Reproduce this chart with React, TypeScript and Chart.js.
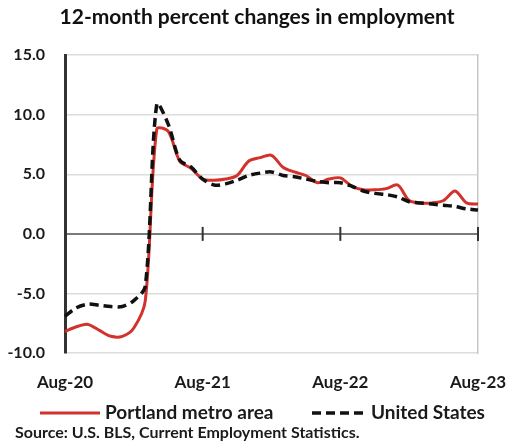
import React, { useEffect, useRef } from 'react';
import { Chart, registerables } from 'chart.js';

Chart.register(...registerables);

const months = [
  'Aug-20', 'Sep-20', 'Oct-20', 'Nov-20', 'Dec-20', 'Jan-21', 'Feb-21', 'Mar-21',
  'Apr-21', 'May-21', 'Jun-21', 'Jul-21', 'Aug-21', 'Sep-21', 'Oct-21', 'Nov-21',
  'Dec-21', 'Jan-22', 'Feb-22', 'Mar-22', 'Apr-22', 'May-22', 'Jun-22', 'Jul-22',
  'Aug-22', 'Sep-22', 'Oct-22', 'Nov-22', 'Dec-22', 'Jan-23', 'Feb-23', 'Mar-23',
  'Apr-23', 'May-23', 'Jun-23', 'Jul-23', 'Aug-23',
];

const portland = [
  -8.2, -7.8, -7.6, -8.1, -8.6, -8.6, -7.9, -5.6,
  8.8, 8.6, 6.1, 5.5, 4.6, 4.5, 4.6, 4.9,
  6.1, 6.4, 6.6, 5.6, 5.2, 4.9, 4.3, 4.6,
  4.7, 4.0, 3.7, 3.7, 3.8, 4.1, 2.8, 2.6,
  2.6, 2.8, 3.6, 2.6, 2.5,
];

const unitedStates = [
  -6.9, -6.2, -5.9, -6.0, -6.1, -6.1, -5.6, -4.4,
  10.9, 9.2, 6.2, 5.6, 4.6, 4.1, 4.2, 4.5,
  4.9, 5.1, 5.2, 4.9, 4.8, 4.6, 4.4, 4.3,
  4.3, 4.0, 3.6, 3.4, 3.3, 3.1, 2.7, 2.6,
  2.5, 2.4, 2.3, 2.1, 2.0,
];

const xTickLabels = ['Aug-20', 'Aug-21', 'Aug-22', 'Aug-23'];
const seriesNames = ['Portland metro area', 'United States'];
const chartTitle = '12-month percent changes in employment';
const sourceNote = 'Source: U.S. BLS, Current Employment Statistics.';
const yMin = -10;
const yMax = 15;
const yStep = 5;

const FONT = 'Lato, "Open Sans", sans-serif';
const TEXT = '#1a1a1a';

const zeroTicksPlugin = {
  id: 'zeroTicks',
  afterDatasetsDraw(chart: any) {
    const { ctx, scales } = chart;
    const x = scales.x;
    const y = scales.y;
    const y0 = y.getPixelForValue(0);
    ctx.save();
    ctx.strokeStyle = '#333333';
    ctx.lineWidth = 2;
    months.forEach((m, i) => {
      if (i > 0 && xTickLabels.includes(m)) {
        const px = x.getPixelForValue(i);
        ctx.beginPath();
        ctx.moveTo(px, y0 - 7);
        ctx.lineTo(px, y0 + 7);
        ctx.stroke();
      }
    });
    ctx.restore();
  },
};

const legendSourcePlugin = {
  id: 'legendSource',
  afterDraw(chart: any) {
    const { ctx } = chart;
    const ds = chart.data.datasets;
    ctx.save();
    const ly = 413;
    const items = [
      { x0: 40, x1: 100, tx: 105 },
      { x0: 312, x1: 367, tx: 371 },
    ];
    items.forEach((it, i) => {
      const d = ds[i];
      ctx.beginPath();
      ctx.strokeStyle = d.borderColor;
      ctx.lineWidth = d.borderWidth;
      ctx.setLineDash(d.borderDash || []);
      ctx.moveTo(it.x0, ly);
      ctx.lineTo(it.x1, ly);
      ctx.stroke();
      ctx.setLineDash([]);
      ctx.fillStyle = TEXT;
      ctx.font = `bold 19px ${FONT}`;
      ctx.textAlign = 'left';
      ctx.textBaseline = 'middle';
      ctx.fillText(d.label, it.tx, ly);
    });
    ctx.font = `bold 16px ${FONT}`;
    ctx.fillStyle = TEXT;
    ctx.textAlign = 'left';
    ctx.textBaseline = 'middle';
    ctx.fillText(sourceNote, 15, 433);
    ctx.restore();
  },
};

export default function App() {
  const ref = useRef<HTMLCanvasElement | null>(null);

  useEffect(() => {
    document.body.style.margin = '0';
    const canvas = ref.current;
    if (!canvas) return;
    const chart = new Chart(canvas, {
      type: 'line',
      data: {
        labels: months,
        datasets: [
          {
            label: seriesNames[0],
            data: portland,
            borderColor: '#d2322b',
            backgroundColor: '#d2322b',
            borderWidth: 3,
            pointRadius: 0,
            tension: 0.3,
            order: 2,
          },
          {
            label: seriesNames[1],
            data: unitedStates,
            borderColor: '#111111',
            backgroundColor: '#111111',
            borderWidth: 3.5,
            borderDash: [9, 5],
            pointRadius: 0,
            tension: 0.3,
            order: 1,
          },
        ],
      },
      options: {
        responsive: false,
        animation: false,
        devicePixelRatio: 1,
        layout: { padding: { left: 6, right: 0, top: 0, bottom: 53 } },
        plugins: {
          legend: { display: false },
          tooltip: { enabled: false },
          title: {
            display: true,
            text: chartTitle,
            color: '#111111',
            font: { family: FONT, size: 21, weight: 'bold', lineHeight: 1.2 },
            padding: { top: 5, bottom: 25 },
          },
        },
        scales: {
          x: {
            type: 'category',
            offset: false,
            grid: { display: false, drawTicks: false },
            border: { display: false },
            afterFit: (s: any) => {
              s.height = 39;
              s.paddingLeft = 0;
              s.paddingRight = 0;
            },
            ticks: {
              autoSkip: false,
              maxRotation: 0,
              minRotation: 0,
              padding: 19,
              color: TEXT,
              font: { family: FONT, size: 17, weight: 'bold', lineHeight: 1.2 },
              callback: (_v: any, i: number) => (xTickLabels.includes(months[i]) ? months[i] : ''),
            },
          },
          y: {
            position: 'left',
            min: yMin,
            max: yMax,
            afterFit: (s: any) => {
              s.width = 59;
            },
            ticks: {
              stepSize: yStep,
              padding: 20,
              color: TEXT,
              font: { family: FONT, size: 16, weight: 'bold' },
              callback: (v: any) => Number(v).toFixed(1),
            },
            grid: {
              drawTicks: false,
              color: (c: any) => (c.tick && c.tick.value === 0 ? '#7a7a7a' : '#dcdcdc'),
              lineWidth: (c: any) => (c.tick && c.tick.value === 0 ? 2 : 1.5),
            },
            border: { display: true, color: '#333333', width: 3 },
          },
          y2: {
            position: 'right',
            min: yMin,
            max: yMax,
            afterFit: (s: any) => {
              s.width = 30;
            },
            ticks: { display: false },
            grid: { display: false, drawTicks: false },
            border: { display: true, color: '#c8c8c8', width: 1.5 },
          },
        },
      },
      plugins: [zeroTicksPlugin, legendSourcePlugin],
    });
    return () => chart.destroy();
  }, []);

  return (
    <div style={{ width: 508, height: 445, background: '#ffffff' }}>
      <canvas ref={ref} width={508} height={445} />
    </div>
  );
}
